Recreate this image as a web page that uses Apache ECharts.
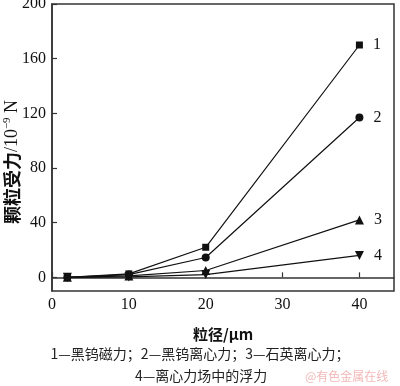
<!DOCTYPE html>
<html><head><meta charset="utf-8">
<script src="https://cdn.jsdelivr.net/npm/echarts@6/dist/echarts.min.js"></script>
<style>html,body{margin:0;padding:0;background:#fff}#c{width:400px;height:386px}</style>
</head><body><div id="c"></div>
<script>
const xValues = [2, 10, 20, 40];
const s1 = [0, 2.5, 22, 170];
const s2 = [0, 2, 14.5, 117];
const s3 = [0, 1, 5, 42];
const s4 = [0, 0.3, 2, 16];
const seriesNames = ['1', '2', '3', '4'];
const yTicks = [0, 40, 80, 120, 160, 200];
const xTicks = [0, 10, 20, 30, 40];

const serif = '"Liberation Serif", "Noto Sans CJK SC", serif';
const cjk = '"Noto Sans CJK SC", "Liberation Serif", serif';
const symbols = ['rect', 'circle', 'triangle', 'path://M0,0 L10,0 L5,9 Z'];
const sizes = [7, 8, 9, 9];
const all = [s1, s2, s3, s4];

const chart = echarts.init(document.getElementById('c'));
chart.setOption({
  animation: false,
  grid: { left: 52, top: 4, right: 6, bottom: 95, containLabel: false, outerBoundsMode: 'none',
    show: true, borderColor: '#333', borderWidth: 1.5 },
  xAxis: {
    type: 'value', min: 0, max: 44.5,
    axisLine: { lineStyle: { color: '#333', width: 1.5 } },
    axisTick: { inside: true, length: 5, customValues: xTicks, lineStyle: { color: '#333', width: 1.2 } },
    axisLabel: { customValues: xTicks, color: '#111', fontFamily: serif, fontSize: 16, margin: 6 },
    splitLine: { show: false },
    name: '粒径/μm', nameLocation: 'middle', nameGap: 36, nameMoveOverlap: false,
    nameTextStyle: { fontFamily: cjk, fontSize: 15, fontWeight: 'bold', color: '#111' }
  },
  yAxis: {
    type: 'value', min: -10, max: 200,
    axisLine: { lineStyle: { color: '#333', width: 1.5 } },
    axisTick: { inside: true, length: 5, customValues: yTicks, lineStyle: { color: '#333', width: 1.2 } },
    axisLabel: { customValues: yTicks, color: '#111', fontFamily: serif, fontSize: 16, margin: 6 },
    splitLine: { show: false }
  },
  series: all.map((d, i) => ({
    type: 'line', name: seriesNames[i],
    data: d.map((v, j) => {
      const p = { value: [xValues[j], v] };
      if (j === d.length - 1) {
        p.label = { show: true, position: 'right', distance: 10, formatter: seriesNames[i],
          fontFamily: serif, fontSize: 16, color: '#111' };
      }
      return p;
    }),
    symbol: symbols[i], symbolSize: sizes[i],
    lineStyle: { color: '#111', width: 1.2 },
    itemStyle: { color: '#111' },
    z: 5 - i
  })),
  graphic: [
    { type: 'text', x: 12, y: 162, rotation: Math.PI / 2,
      style: { text: '{c|颗粒受力}{s|/10}{sup|−9}{s| N}', align: 'center', verticalAlign: 'middle',
        rich: {
          c: { fontFamily: cjk, fontSize: 18, fontWeight: 'bold', fill: '#111' },
          s: { fontFamily: serif, fontSize: 18, fill: '#111' },
          sup: { fontFamily: serif, fontSize: 11, fill: '#111', verticalAlign: 'top', padding: [0, 0, 9, 0] }
        } } },
    { type: 'text', left: 'center', top: 347, style: { text: '1—黑钨磁力；2—黑钨离心力；3—石英离心力；', font: '14px ' + cjk, fill: '#222' } },
    { type: 'text', left: 135, top: 369, style: { text: '4—离心力场中的浮力', font: '14px ' + cjk, fill: '#222' } },
    { type: 'text', left: 305, top: 370, style: { text: '@有色金属在线', font: '12px ' + cjk, fill: '#f2b8b8' } }
  ]
});
</script></body></html>
